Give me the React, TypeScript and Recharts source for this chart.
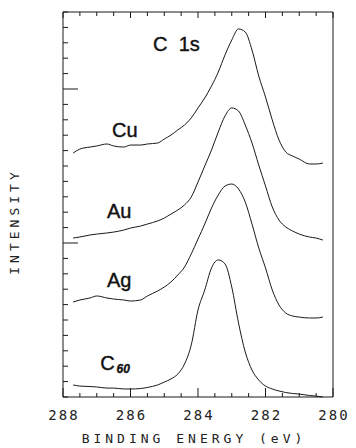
import React from "react";
import { LineChart, Line, XAxis, YAxis, ReferenceDot } from "recharts";

// binding energy grid (eV), shared by all four spectra
const ENERGY = [
  287.7, 287.5, 287.2, 287.0, 286.7, 286.5, 286.2, 286.0, 285.7, 285.5, 285.2, 285.0,
  284.8, 284.6, 284.4, 284.2, 284.0, 283.8, 283.6, 283.4, 283.2, 283.0, 282.8, 282.6,
  282.4, 282.2, 282.0, 281.8, 281.6, 281.4, 281.2, 281.0, 280.7, 280.5, 280.3,
];

// stacked intensities (arb. units, offsets included)
const CU = [
  15.84, 16.1, 16.23, 16.3, 16.43, 16.3, 16.23, 16.36, 16.36, 16.43, 16.49, 16.75,
  17.01, 17.34, 17.66, 18.12, 18.77, 19.42, 20.19, 21.1, 22.21, 23.18, 23.9, 23.7,
  22.53, 20.84, 19.48, 17.99, 16.69, 15.91, 15.65, 15.45, 15.13, 15.13, 15.19,
];
const AU = [
  10.32, 10.39, 10.52, 10.58, 10.65, 10.71, 10.84, 10.97, 11.1, 11.23, 11.43, 11.62,
  11.88, 12.14, 12.47, 12.99, 13.96, 15.0, 16.04, 17.21, 18.25, 18.77, 18.57, 17.66,
  16.49, 15.06, 13.7, 12.34, 11.49, 11.04, 10.78, 10.58, 10.39, 10.32, 10.19,
];
const AG = [
  6.17, 6.3, 6.43, 6.56, 6.43, 6.36, 6.3, 6.23, 6.3, 6.56, 6.88, 7.14,
  7.47, 7.92, 8.44, 9.29, 10.26, 11.23, 12.27, 13.12, 13.7, 13.83, 13.51, 12.66,
  11.23, 9.68, 8.38, 6.95, 5.97, 5.45, 5.26, 5.19, 5.13, 5.13, 5.19,
];
const C60 = [
  0.78, 0.71, 0.68, 0.65, 0.58, 0.58, 0.52, 0.52, 0.55, 0.62, 0.78, 0.97,
  1.17, 1.49, 2.14, 3.38, 5.65, 6.95, 8.38, 8.9, 8.64, 7.14, 4.81, 2.92,
  1.75, 1.1, 0.71, 0.52, 0.39, 0.29, 0.23, 0.19, 0.1, 0.06, 0,
];

const X_TICKS = [
  280, 280.5, 281, 281.5, 282, 282.5, 283, 283.5, 284, 284.5, 285, 285.5, 286, 286.5,
  287, 287.5, 288,
];
const X_LABELS = [280, 282, 284, 286, 288];
const Y_TICKS = [
  0, 1, 2, 3, 4, 5, 6, 7, 8, 9, 10, 11, 12, 13, 14, 15, 16, 17, 18, 19, 20, 21, 22, 23,
  24, 25,
];
const Y_MAJOR = [10, 20];

// curve labels: [energy, level, text]
const LABELS: [number, number, string][] = [
  [285.33, 22.47, "C  1s"],
  [286.55, 16.88, "Cu"],
  [286.7, 11.62, "Au"],
  [286.7, 7.14, "Ag"],
  [286.9, 1.75, "C"],
];

const INK = "#1a1a1a";
const plotFont = {
  fontFamily: "'DejaVu Sans Mono', monospace",
  fontSize: 14,
  letterSpacing: 2,
  fill: "#222",
} as const;

const data = ENERGY.map((e, i) => ({ e, cu: CU[i], au: AU[i], ag: AG[i], c60: C60[i] }));

function BottomTick({ x, y, payload }: any) {
  const major = X_LABELS.includes(payload.value);
  return (
    <g>
      <line x1={x} x2={x} y1={y} y2={y - (major ? 9 : 4)} stroke={INK} />
      {major && (
        <text x={x + 1} y={y + 23} textAnchor="middle" style={plotFont}>
          {payload.value}
        </text>
      )}
    </g>
  );
}

function TopTick({ x, y, payload }: any) {
  const major = X_LABELS.includes(payload.value);
  return <line x1={x} x2={x} y1={y} y2={y + (major ? 6 : 4)} stroke={INK} />;
}

function LeftTick({ x, y, payload }: any) {
  const len = Y_MAJOR.includes(payload.value) ? 15 : 5;
  return <line x1={x} x2={x + len} y1={y} y2={y} stroke={INK} />;
}

function RightTick({ x, y, payload }: any) {
  const len = Y_MAJOR.includes(payload.value) ? 15 : 5;
  return <line x1={x} x2={x - len} y1={y} y2={y} stroke={INK} />;
}

const labelStyle = {
  fontFamily: "'Liberation Sans', Arial",
  fontSize: 20,
  whiteSpace: "pre",
} as const;

function CurveLabel({ cx, cy, text }: any) {
  if (text === "C") {
    return (
      <text x={cx} y={cy} fill="#111" stroke="#111" strokeWidth={0.4} style={labelStyle}>
        C
        <tspan dx={2} dy={3} style={{ fontSize: 12, fontWeight: "bold", fontStyle: "italic" }}>
          60
        </tspan>
      </text>
    );
  }
  return (
    <text x={cx} y={cy} fill="#111" stroke="#111" strokeWidth={0.4} style={labelStyle}>
      {text}
    </text>
  );
}

export default function App() {
  return (
    <div style={{ position: "absolute", left: 0, top: 0, background: "#fff" }}>
      <LineChart
        width={356}
        height={448}
        data={data}
        margin={{ top: 11, right: 22, bottom: 50, left: 62 }}
      >
        <XAxis
          dataKey="e"
          type="number"
          domain={[280, 288]}
          reversed
          ticks={X_TICKS}
          interval={0}
          height={1}
          tickSize={0}
          tickMargin={0}
          tickLine={false}
          axisLine={{ stroke: INK }}
          tick={<BottomTick />}
          label={{
            content: ({ viewBox }: any) => (
              <text
                x={viewBox.x + viewBox.width / 2 - 4}
                y={viewBox.y + 46}
                textAnchor="middle"
                style={{ ...plotFont, fontSize: 13, letterSpacing: 4 }}
              >
                BINDING ENERGY (eV)
              </text>
            ),
          }}
        />
        <XAxis
          xAxisId="top"
          orientation="top"
          dataKey="e"
          type="number"
          domain={[280, 288]}
          reversed
          ticks={X_TICKS}
          interval={0}
          height={1}
          tickSize={0}
          tickMargin={0}
          tickLine={false}
          axisLine={{ stroke: INK }}
          tick={<TopTick />}
        />
        <YAxis
          type="number"
          domain={[0, 25]}
          ticks={Y_TICKS}
          interval={0}
          width={1}
          tickSize={0}
          tickMargin={0}
          tickLine={false}
          axisLine={{ stroke: INK }}
          tick={<LeftTick />}
          label={{
            content: ({ viewBox }: any) => {
              const cx = viewBox.x - 43;
              const cy = viewBox.y + viewBox.height / 2 + 17;
              return (
                <text
                  x={cx}
                  y={cy}
                  textAnchor="middle"
                  transform={`rotate(-90 ${cx} ${cy})`}
                  style={{ ...plotFont, fontSize: 13, letterSpacing: 4 }}
                >
                  INTENSITY
                </text>
              );
            },
          }}
        />
        <YAxis
          yAxisId="right"
          orientation="right"
          type="number"
          domain={[0, 25]}
          ticks={Y_TICKS}
          interval={0}
          width={1}
          tickSize={0}
          tickMargin={0}
          tickLine={false}
          axisLine={{ stroke: INK }}
          tick={<RightTick />}
        />

        <Line type="monotone" dataKey="cu" stroke={INK} strokeWidth={1} dot={false} isAnimationActive={false} />
        <Line type="monotone" dataKey="au" stroke={INK} strokeWidth={1} dot={false} isAnimationActive={false} />
        <Line type="monotone" dataKey="ag" stroke={INK} strokeWidth={1} dot={false} isAnimationActive={false} />
        <Line type="monotone" dataKey="c60" stroke={INK} strokeWidth={1} dot={false} isAnimationActive={false} />

        {LABELS.map(([e, v, text]) => (
          <ReferenceDot
            key={text}
            x={e}
            y={v}
            r={0}
            ifOverflow="visible"
            shape={(p: any) => <CurveLabel cx={p.cx} cy={p.cy} text={text} />}
          />
        ))}
      </LineChart>
    </div>
  );
}
